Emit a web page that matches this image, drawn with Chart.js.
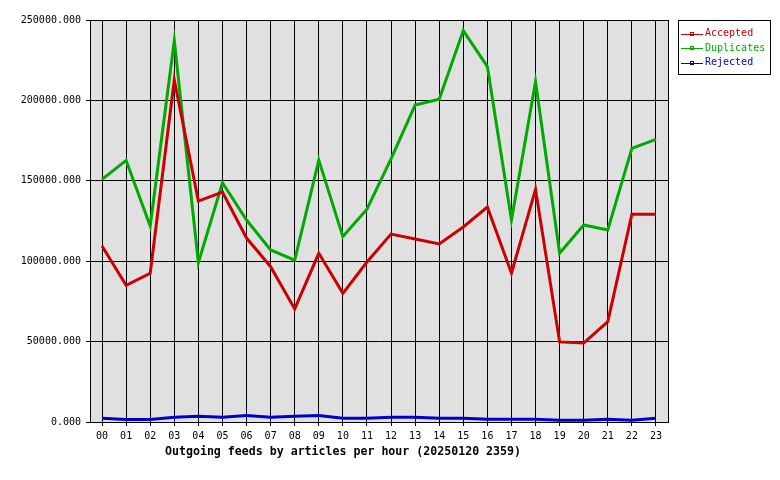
<!DOCTYPE html>
<html>
<head>
<meta charset="utf-8">
<script src="https://cdn.jsdelivr.net/npm/chart.js@4"></script>
<style>
  html, body { margin: 0; padding: 0; background: #fff; }
  #wrap { position: relative; width: 780px; height: 480px; }
</style>
</head>
<body>
<div id="wrap"><canvas id="chart" width="780" height="480"></canvas></div>
<script>
  const hours = ["00","01","02","03","04","05","06","07","08","09","10","11",
                 "12","13","14","15","16","17","18","19","20","21","22","23"];
  const accepted = [109500, 85000, 92500, 212700, 137400, 143000, 114400, 96600, 70300, 104900, 80000, 99500,
                    116900, 113800, 110700, 121300, 133700, 92500, 144700, 49800, 49100, 62400, 129200, 129200];
  const duplicates = [150900, 162700, 121900, 237100, 99100, 148800, 125600, 107000, 100700, 162900, 115300, 132300,
                      163600, 197100, 200700, 243400, 221000, 125600, 211600, 104900, 122500, 119400, 170200, 175800];
  const rejected = [2300, 1500, 1500, 2900, 3500, 2900, 4100, 2900, 3500, 4100, 2300, 2300,
                    2900, 2900, 2300, 2300, 1700, 1700, 1700, 1100, 1100, 1700, 1100, 2300];
  const seriesNames = ["Accepted", "Duplicates", "Rejected"];
  const seriesColors = ["#cc0000", "#00aa00", "#0000cc"];
  const chartTitle = "Outgoing feeds by articles per hour (20250120 2359)";

  const mono = "'DejaVu Sans Mono', monospace";

  // grey plot background, frame, title and legend
  const plotBg = {
    id: "plotBg",
    beforeDraw(chart) {
      const { ctx, chartArea: a } = chart;
      ctx.save();
      ctx.fillStyle = "#e0e0e0";
      ctx.fillRect(a.left, a.top, a.right - a.left, a.bottom - a.top);
      ctx.restore();
    },
    afterDraw(chart) {
      const { ctx, chartArea: a } = chart;
      ctx.save();
      ctx.strokeStyle = "#000";
      ctx.lineWidth = 1;
      ctx.strokeRect(a.left + 0.5, a.top + 0.5, a.right - a.left, a.bottom - a.top);

      // axis title, centred on the canvas minus legend like the original
      ctx.fillStyle = "#000";
      ctx.font = "bold 11.6px " + mono;
      ctx.textAlign = "center";
      ctx.textBaseline = "middle";
      ctx.fillText(chartTitle, 343, 452);

      // legend box on the right
      const bx = 678, by = 20, bw = 92, bh = 54;
      ctx.fillStyle = "#fff";
      ctx.fillRect(bx, by, bw, bh);
      ctx.strokeRect(bx + 0.5, by + 0.5, bw, bh);
      ctx.font = "10px " + mono;
      ctx.textAlign = "left";
      seriesNames.forEach((name, i) => {
        const y = by + 13.5 + i * 14.5;
        ctx.strokeStyle = seriesColors[i];
        ctx.beginPath();
        ctx.moveTo(bx + 3, Math.round(y) + 0.5);
        ctx.lineTo(bx + 25, Math.round(y) + 0.5);
        ctx.stroke();
        ctx.strokeRect(bx + 12.5, Math.round(y) - 1.5, 3, 3);
        ctx.fillStyle = seriesColors[i];
        ctx.fillText(name, bx + 27, y);
      });
      ctx.restore();
    }
  };

  const mkSet = (label, data, color) => ({
    label, data, borderColor: color, backgroundColor: color,
    borderWidth: 3, pointRadius: 0, tension: 0, fill: false
  });

  new Chart(document.getElementById("chart"), {
    type: "line",
    data: {
      labels: hours,
      datasets: [
        mkSet(seriesNames[0], accepted, seriesColors[0]),
        mkSet(seriesNames[1], duplicates, seriesColors[1]),
        mkSet(seriesNames[2], rejected, seriesColors[2])
      ]
    },
    options: {
      responsive: false,
      animation: false,
      layout: { padding: { top: 20, right: 112, left: 0, bottom: 0 } },
      plugins: { legend: { display: false }, tooltip: { enabled: false } },
      scales: {
        x: {
          offset: true,
          grid: { offset: false, color: "#000", lineWidth: 1, tickLength: 4, tickColor: "#000" },
          border: { display: true, color: "#000" },
          ticks: { color: "#000", font: { family: mono, size: 10 }, padding: 4, maxRotation: 0, autoSkip: false },
          afterFit(s) { s.height = 58; }
        },
        y: {
          min: 0, max: 250000,
          grid: { color: "#000", lineWidth: 1, tickLength: 4, tickColor: "#000" },
          border: { display: true, color: "#000" },
          ticks: { stepSize: 50000, color: "#000", font: { family: mono, size: 10 }, padding: 5,
                   callback: (v) => v.toFixed(3) },
          afterFit(s) { s.width = 90; }
        }
      }
    },
    plugins: [plotBg]
  });
</script>
</body>
</html>
